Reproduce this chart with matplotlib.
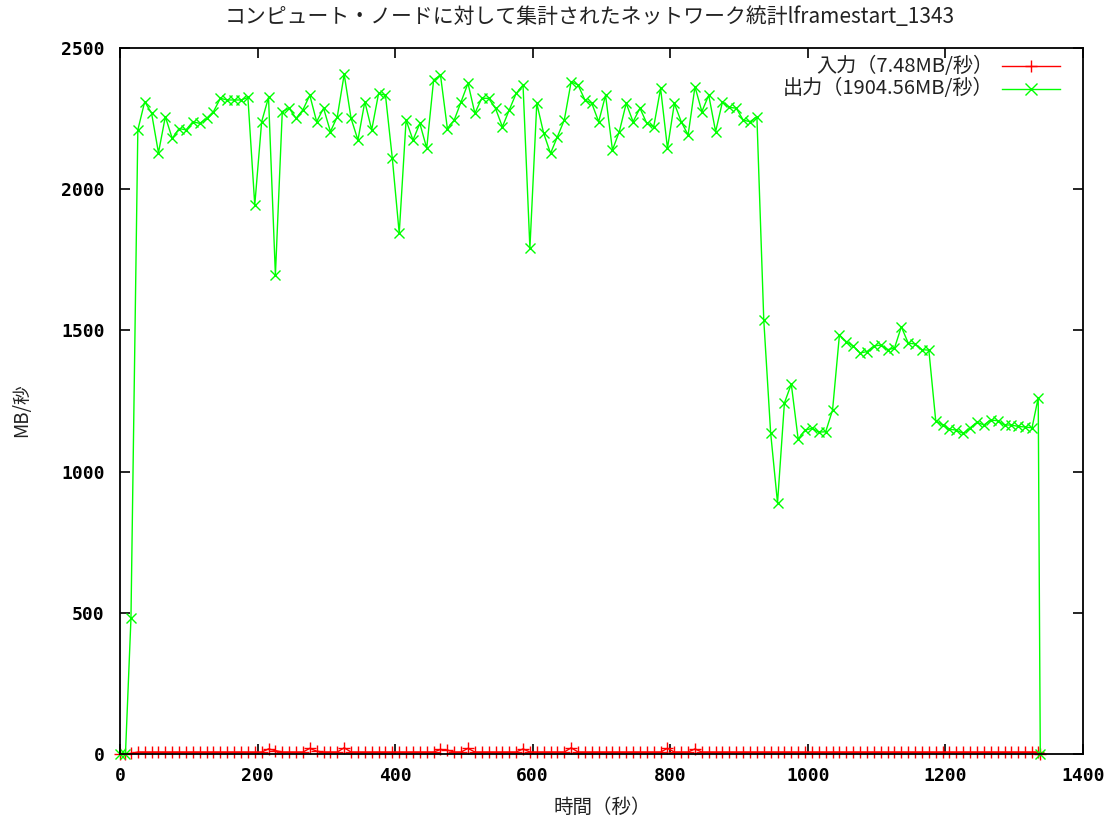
import matplotlib
matplotlib.use("Agg")
import matplotlib.pyplot as plt

plt.rcParams['font.family'] = ['Noto Sans CJK JP', 'DejaVu Sans']

title = "コンピュート・ノードに対して集計されたネットワーク統計lframestart_1343"
xlabel = "時間（秒）"
ylabel = "MB/秒"
label_in = "入力（7.48MB/秒）"
label_out = "出力（1904.56MB/秒）"

# sample times (seconds)
time_s = [
    0, 8, 16, 26, 36, 46, 56, 66, 76, 86, 96,
    106, 116, 126, 136, 146, 156, 166, 176, 186, 196,
    206, 216, 226, 236, 246, 256, 266, 276, 286, 296,
    306, 316, 326, 336, 346, 356, 366, 376, 386, 396,
    406, 416, 426, 436, 446, 456, 466, 476, 486, 496,
    506, 516, 526, 536, 546, 556, 566, 576, 586, 596,
    606, 616, 626, 636, 646, 656, 666, 676, 686, 696,
    706, 716, 726, 736, 746, 756, 766, 776, 786, 796,
    806, 816, 826, 836, 846, 856, 866, 876, 886, 896,
    906, 916, 926, 936, 946, 956, 966, 976, 986, 996,
    1006, 1016, 1026, 1036, 1046, 1056, 1066, 1076, 1086, 1096,
    1106, 1116, 1126, 1136, 1146, 1156, 1166, 1176, 1186, 1196,
    1206, 1216, 1226, 1236, 1246, 1256, 1266, 1276, 1286, 1296,
    1306, 1316, 1326, 1335, 1338,
]

# input MB/s
input_mb = [
    0, 0, 2, 7, 7, 7, 7, 7, 7, 7, 7,
    7, 7, 7, 7, 7, 7, 7, 7, 7, 7,
    7, 18, 12, 7, 7, 7, 7, 20, 10, 7,
    7, 7, 22, 7, 7, 7, 7, 7, 7, 7,
    7, 7, 7, 7, 7, 7, 16, 14, 7, 7,
    20, 7, 7, 7, 7, 7, 7, 7, 18, 7,
    7, 7, 7, 7, 7, 22, 7, 7, 7, 7,
    7, 7, 7, 7, 7, 7, 7, 7, 7, 20,
    7, 7, 7, 18, 7, 7, 7, 7, 7, 7,
    7, 7, 7, 7, 7, 7, 7, 7, 7, 7,
    7, 7, 7, 7, 7, 7, 7, 7, 7, 7,
    7, 7, 7, 7, 7, 7, 7, 7, 7, 7,
    7, 7, 7, 7, 7, 7, 7, 7, 7, 7,
    7, 7, 7, 7, 0,
]

# output MB/s
output_mb = [
    0, 0, 480, 2210, 2310, 2269, 2129, 2257, 2180, 2215, 2210,
    2239, 2233, 2251, 2275, 2322, 2316, 2316, 2316, 2325, 1944,
    2239, 2325, 1696, 2275, 2287, 2251, 2281, 2333, 2239, 2287,
    2204, 2257, 2407, 2251, 2174, 2310, 2210, 2339, 2333, 2109,
    1844, 2245, 2174, 2233, 2145, 2387, 2404, 2215, 2245, 2310,
    2375, 2269, 2322, 2322, 2286, 2221, 2281, 2339, 2369, 1791,
    2304, 2198, 2127, 2186, 2245, 2381, 2369, 2316, 2304, 2239,
    2333, 2139, 2204, 2304, 2239, 2287, 2233, 2221, 2357, 2145,
    2304, 2239, 2192, 2363, 2275, 2333, 2204, 2310, 2290, 2287,
    2245, 2239, 2257, 1537, 1137, 889, 1243, 1310, 1115, 1147,
    1153, 1140, 1141, 1218, 1484, 1460, 1445, 1420, 1425, 1445,
    1448, 1432, 1437, 1513, 1455, 1452, 1432, 1430, 1180, 1165,
    1150, 1147, 1135, 1155, 1175, 1165, 1183, 1180, 1165, 1165,
    1160, 1158, 1155, 1262, 0,
]

xticks = [0, 200, 400, 600, 800, 1000, 1200, 1400]
yticks = [0, 500, 1000, 1500, 2000, 2500]

red = '#ff0000'
green = '#00ff00'

fig = plt.figure(figsize=(11.2, 8.21), dpi=100)
ax = fig.add_axes([0.1071, 0.0816, 0.8598, 0.8599])

ax.plot(time_s, input_mb, color=red, lw=1, marker='+', ms=8, mew=1, clip_on=False)
ax.plot(time_s, output_mb, color=green, lw=1, marker='x', ms=7, mew=1, clip_on=False)

ax.set_xlim(0, 1400)
ax.set_ylim(0, 2500)
ax.set_xticks(xticks)
ax.set_yticks(yticks)
ax.tick_params(direction='in', length=7, width=1.2, top=True, right=True, labelsize=13)
ax.tick_params(axis='x', pad=9)
ax.tick_params(axis='y', pad=11)
for lab in ax.get_xticklabels() + ax.get_yticklabels():
    lab.set_fontfamily('DejaVu Sans Mono')
    lab.set_fontweight('bold')
for sp in ax.spines.values():
    sp.set_linewidth(1.3)

# gnuplot style key: text right-aligned, sample on the right
key_rows = [(label_in, red, '+', 0.9745), (label_out, green, 'x', 0.942)]
for text, col, mk, yy in key_rows:
    ax.text(0.9075, yy, text, transform=ax.transAxes, ha='right', va='center',
            fontsize=14.5, color='#222222')
    ax.plot([0.9159, 0.9761], [yy, yy], transform=ax.transAxes, color=col, lw=1, clip_on=False)
    ax.plot([0.946], [yy], transform=ax.transAxes, color=col, marker=mk, ms=8, mew=1, clip_on=False)

fig.text(0.527, 0.979, title, ha='center', va='center', fontsize=15, color='#222222')
fig.text(0.538, 0.016, xlabel, ha='center', va='center', fontsize=14, color='#222222')
fig.text(0.0196, 0.5, ylabel, ha='center', va='center', rotation=90, fontsize=13.5,
         color='#222222')

fig.savefig('out.png')
